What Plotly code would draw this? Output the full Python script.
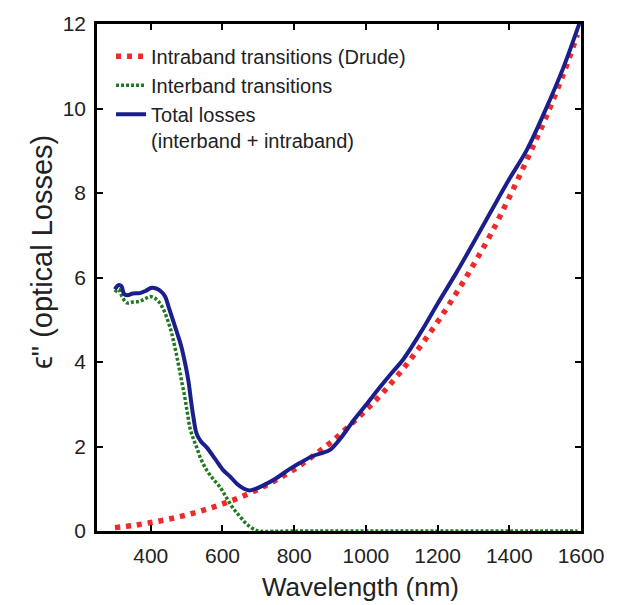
import plotly.graph_objects as go

# Intraband (Drude) losses
drude_wl = [300, 350, 400, 450, 500, 550, 600, 650, 700, 750, 800, 850, 900, 950,
            1000, 1050, 1100, 1150, 1200, 1250, 1300, 1350, 1400, 1450, 1500, 1550, 1590]
drude_eps = [0.08, 0.13, 0.20, 0.28, 0.38, 0.50, 0.64, 0.80, 0.99, 1.21, 1.46, 1.76, 2.08, 2.46,
             2.86, 3.30, 3.80, 4.35, 4.95, 5.60, 6.30, 7.05, 7.90, 8.80, 9.75, 10.80, 11.75]

# Interband losses
inter_wl = [300, 310, 320, 333, 350, 370, 385, 398, 410, 421, 435, 454, 466, 477, 486, 495,
            502, 509, 518, 528, 540, 556, 575, 593, 607, 621, 635, 649, 663, 677, 690, 700,
            800, 1000, 1200, 1400, 1590]
inter_eps = [5.65, 5.72, 5.55, 5.40, 5.42, 5.44, 5.50, 5.55, 5.52, 5.44, 5.25, 4.81, 4.40, 3.95,
             3.55, 3.16, 2.80, 2.45, 2.20, 1.98, 1.70, 1.44, 1.22, 1.04, 0.85, 0.65, 0.48, 0.34,
             0.20, 0.10, 0.03, 0.0, 0.0, 0.0, 0.0, 0.0, 0.0]

# Total losses
total_wl = [300, 310, 318, 325, 335, 350, 370, 385, 400, 415, 430, 440, 450, 463, 475, 486,
            495, 505, 512, 519, 528, 540, 556, 580, 602, 620, 640, 660, 675, 690, 714, 750,
            788, 820, 850, 880, 900, 930, 965, 1000, 1039, 1070, 1104, 1155, 1200, 1250, 1300,
            1350, 1400, 1449, 1500, 1550, 1597]
total_eps = [5.72, 5.82, 5.80, 5.62, 5.58, 5.62, 5.63, 5.68, 5.75, 5.74, 5.66, 5.55, 5.30, 4.96,
             4.65, 4.34, 4.00, 3.55, 3.10, 2.69, 2.30, 2.12, 1.98, 1.70, 1.44, 1.30, 1.12, 1.00,
             0.96, 0.99, 1.08, 1.25, 1.47, 1.63, 1.77, 1.85, 1.92, 2.20, 2.61, 2.98, 3.40, 3.72,
             4.06, 4.73, 5.38, 6.08, 6.82, 7.58, 8.33, 9.02, 9.95, 10.95, 12.05]

x_ticks = [400, 600, 800, 1000, 1200, 1400, 1600]
y_ticks = [0, 2, 4, 6, 8, 10, 12]
x_title = "Wavelength (nm)"
y_title = "ϵ\" (optical Losses)"

FONT = "Liberation Sans, Arial"

fig = go.Figure()
fig.add_trace(go.Scatter(x=drude_wl, y=drude_eps, mode="lines", line_shape="spline",
                         name="Intraband transitions (Drude)",
                         line=dict(color="#ee2a2a", width=5.5, dash="5px,6px")))
fig.add_trace(go.Scatter(x=inter_wl, y=inter_eps, mode="lines", line_shape="spline",
                         name="Interband transitions",
                         line=dict(color="#1f7a1f", width=3.5, dash="3px,2px")))
fig.add_trace(go.Scatter(x=total_wl, y=total_eps, mode="lines", line_shape="spline",
                         name="Total losses<br>(interband + intraband)",
                         line=dict(color="#1a1f8c", width=4)))

axis_common = dict(showline=True, linecolor="black", linewidth=2.5, mirror="ticks",
                   ticks="inside", ticklen=6, tickwidth=2, tickcolor="black",
                   showgrid=False, zeroline=False, ticklabelstandoff=4,
                   tickfont=dict(family=FONT, size=21, color="#222"))

fig.update_layout(
    width=617, height=605,
    margin=dict(l=97, r=36, t=19, b=74),
    plot_bgcolor="white", paper_bgcolor="white",
    xaxis=dict(range=[250, 1600], tickvals=x_ticks, **axis_common),
    yaxis=dict(range=[0, 12], tickvals=y_ticks, **axis_common),
    legend=dict(x=0.029, y=0.975, xanchor="left", yanchor="top", valign="top",
                bgcolor="rgba(0,0,0,0)", itemwidth=30, tracegroupgap=0,
                font=dict(family=FONT, size=20, color="#222")),
    annotations=[
        dict(text=x_title, xref="paper", yref="paper", x=0.545, y=-0.111,
             xanchor="center", yanchor="middle", showarrow=False,
             font=dict(family=FONT, size=26, color="#222")),
        dict(text=y_title, xref="paper", yref="paper", x=-0.114, y=0.55,
             xanchor="center", yanchor="middle", textangle=-90, showarrow=False,
             font=dict(family=FONT, size=29, color="#222")),
    ],
)

fig.write_html("out.html")
